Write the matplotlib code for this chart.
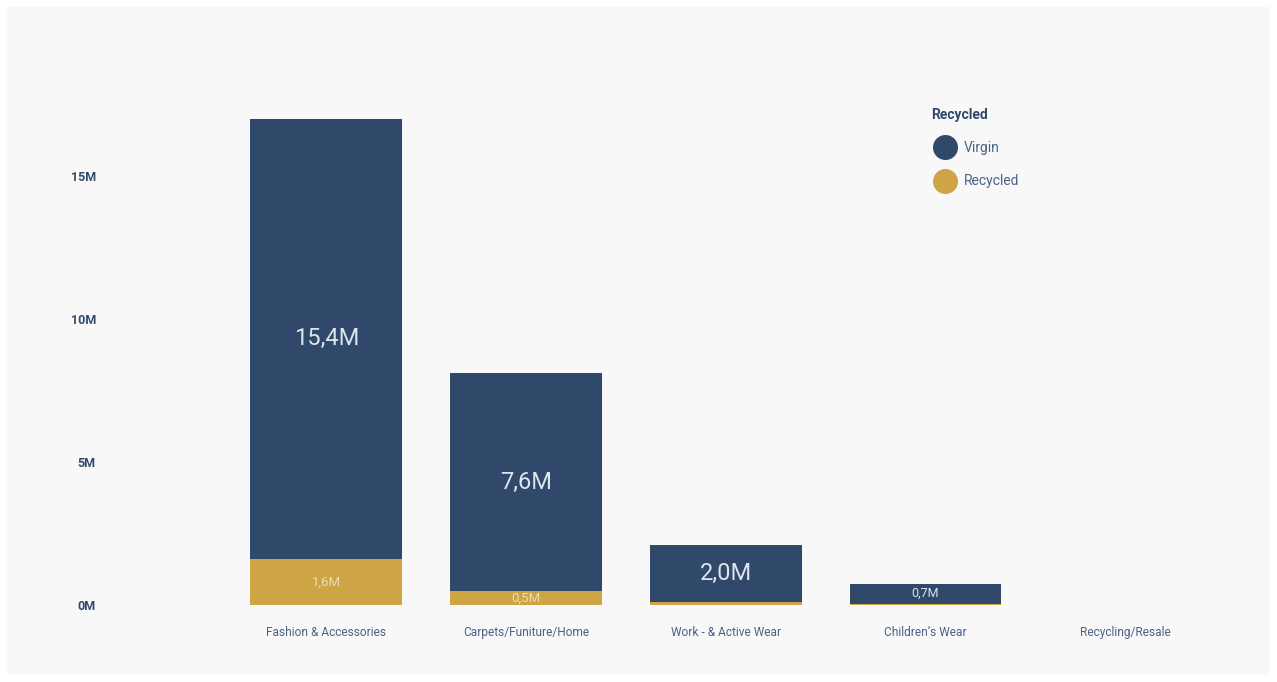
import matplotlib.pyplot as plt
from matplotlib.lines import Line2D

categories = ['Fashion & Accessories', 'Carpets/Funiture/Home', 'Work - & Active Wear',
              "Children\u2019s Wear", 'Recycling/Resale']
virgin = [15.4, 7.6, 2.0, 0.7, 0.0]
recycled = [1.6, 0.5, 0.1, 0.05, 0.0]
y_ticks = [0, 5, 10, 15]

NAVY = '#30496b'
GOLD = '#cfa445'
TEXT = '#4a6385'

plt.rcParams['font.family'] = ['Roboto', 'DejaVu Sans']


def fmt(v):
    return f'{v:.1f}M'.replace('.', ',')


fig = plt.figure(figsize=(12.77, 6.82), dpi=100, facecolor='white')
fig.patches.append(plt.Rectangle((7 / 1277, 7 / 682), 1263 / 1277, 668 / 682,
                                 transform=fig.transFigure, facecolor='#f8f8f8',
                                 edgecolor='none', zorder=-10))
ax = fig.add_axes([100 / 1277, 77 / 682, 1125 / 1277, 515 / 682])
ax.set_facecolor('none')

x = list(range(len(categories)))
width = 0.76
ax.bar(x, recycled, width, color=GOLD, zorder=2)
ax.bar(x, virgin, width, bottom=recycled, color=NAVY, zorder=2)

for i, (v, r) in enumerate(zip(virgin, recycled)):
    if v > 0:
        big = v >= 1.5
        ax.text(i, r + v / 2, fmt(v), ha='center', va='center',
                color='#dce4ef', fontsize=17 if big else 9, zorder=3)
    if r >= 0.3:
        ax.text(i, r / 2, fmt(r), ha='center', va='center',
                color='#ecdcb4', fontsize=9.5, zorder=3)

ax.set_xlim(-1.133, 4.5)
ax.set_ylim(0, 18)
ax.set_xticks(x)
ax.set_xticklabels(categories, fontsize=8.6, color=TEXT)
ax.set_yticks(y_ticks)
ax.set_yticklabels([f'{t}M' for t in y_ticks], fontsize=9, color=NAVY, fontweight='bold')
ax.tick_params(length=0)
ax.tick_params(axis='x', pad=15)
ax.tick_params(axis='y', pad=3)
for lbl in ax.get_yticklabels():
    lbl.set_horizontalalignment('right')
for s in ax.spines.values():
    s.set_visible(False)

handles = [Line2D([], [], marker='o', linestyle='', markersize=17, color=NAVY),
           Line2D([], [], marker='o', linestyle='', markersize=17, color=GOLD)]
leg = fig.legend(handles, ['Virgin', 'Recycled'], title='Recycled',
                 loc='upper left', bbox_to_anchor=(919 / 1277, 1 - 95 / 682),
                 frameon=False, fontsize=10, labelcolor=TEXT,
                 handletextpad=0.3, labelspacing=1.4, alignment='left')
leg.get_title().set_color(NAVY)
leg.get_title().set_fontweight('bold')
leg.get_title().set_fontsize(10)

fig.savefig('out.png', dpi=100, facecolor='white')
